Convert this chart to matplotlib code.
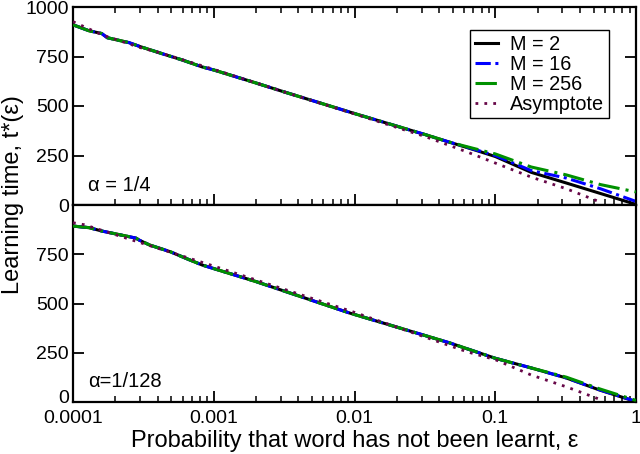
import matplotlib
matplotlib.use("Agg")
import matplotlib.pyplot as plt
import matplotlib.transforms as mtransforms
from matplotlib.ticker import LogLocator, NullFormatter, FixedLocator

plt.rcParams['font.family'] = ['Liberation Sans', 'DejaVu Sans']

# ---------------- data ----------------
# top panel, alpha = 1/4 : common part of the three M curves
top_eps_common = [1e-4, 1.3e-4, 1.6e-4, 1.75e-4, 2.5e-4, 3e-4, 4.4e-4, 6e-4,
                  8.3e-4, 1e-3, 2e-3, 3.2e-3, 0.01, 0.032, 0.047]
top_t_common = [910, 880, 866, 845, 820, 800, 762, 732,
                697, 682, 616, 570, 462, 355, 318]
top_eps_tail = [0.07, 0.1, 0.18, 0.32, 0.56, 1.0]
top_t_tail_m2 = [280, 245, 165, 111, 58, 3]
top_t_tail_m16 = [282, 250, 174, 136, 82, 18]
top_t_tail_m256 = [286, 258, 192, 152, 103, 66]

top_eps_asym = [1e-4, 1.6e-4, 3e-4, 4e-4, 1e-3, 3.2e-3, 0.01, 0.032, 0.063,
                0.1, 0.18, 0.32, 0.57]
top_t_asym = [926, 860, 795, 772, 685, 570, 460, 345, 268, 212, 141, 82, 12]

# bottom panel, alpha = 1/128
bot_eps_common = [1e-4, 1.3e-4, 1.6e-4, 2.8e-4, 2.95e-4, 3.5e-4, 4.9e-4,
                  6.5e-4, 8.3e-4, 2e-3, 0.0092, 0.047, 0.1, 0.18]
bot_t_common = [893, 885, 868, 832, 822, 797, 763, 726, 695, 611, 452, 301,
                222, 173]
bot_eps_tail = [0.32, 0.55, 1.0]
bot_t_tail_m2 = [122, 61, 2]
bot_t_tail_m16 = [122, 62, 3]
bot_t_tail_m256 = [126, 67, 8]

bot_eps_asym = [1e-4, 1.2e-4, 1e-3, 0.01, 0.063, 0.1, 0.18, 0.32, 0.57]
bot_t_asym = [910, 900, 690, 455, 255, 215, 137, 77, 10]

labels = ["M = 2", "M = 16", "M = 256", "Asymptote"]
yticks = [0, 250, 500, 750, 1000]
xticks = [1e-4, 1e-3, 1e-2, 1e-1, 1]
xticklabels = ["0.0001", "0.001", "0.01", "0.1", "1"]

# ---------------- styling ----------------
c_m2 = "black"
c_m16 = "#0000ff"
c_m256 = "#009100"
c_asym = "#670748"
ls_m2 = "-"
ls_m16 = (0, (5, 1.5, 1, 1.5))
ls_m256 = (0, (7, 2, 1, 2))
ls_asym = (0, (1, 2.2))

fig = plt.figure(figsize=(6.4, 4.54), dpi=100)
left, right = 73 / 640, 636 / 640
top, mid, bot = 1 - 7 / 454, 1 - 205 / 454, 1 - 402 / 454
ax1 = fig.add_axes([left, mid, right - left, top - mid])
ax2 = fig.add_axes([left, bot, right - left, mid - bot], sharex=ax1)


def draw(ax, eps_c, t_c, eps_tail, t2, t16, t256, eps_a, t_a):
    ax.plot(eps_a, t_a, color=c_asym, ls=ls_asym, lw=2.0, label=labels[3], zorder=4)
    ax.plot(eps_c + eps_tail, t_c + t256, color=c_m256, ls=ls_m256, lw=2.2, label=labels[2], zorder=3)
    ax.plot(eps_c + eps_tail, t_c + t16, color=c_m16, ls=ls_m16, lw=2.2, label=labels[1], zorder=2)
    ax.plot(eps_c + eps_tail, t_c + t2, color=c_m2, ls=ls_m2, lw=2.2, label=labels[0], zorder=1)


draw(ax1, top_eps_common, top_t_common, top_eps_tail, top_t_tail_m2,
     top_t_tail_m16, top_t_tail_m256, top_eps_asym, top_t_asym)
draw(ax2, bot_eps_common, bot_t_common, bot_eps_tail, bot_t_tail_m2,
     bot_t_tail_m16, bot_t_tail_m256, bot_eps_asym, bot_t_asym)

for ax in (ax1, ax2):
    ax.set_xscale("log")
    ax.set_xlim(1e-4, 1)
    ax.set_ylim(0, 1000)
    for s in ax.spines.values():
        s.set_linewidth(1.6)
    ax.xaxis.set_major_locator(FixedLocator(xticks))
    ax.xaxis.set_minor_locator(LogLocator(base=10, subs=range(2, 10)))
    ax.xaxis.set_minor_formatter(NullFormatter())
    ax.tick_params(which="major", direction="in", length=8, width=1.3,
                   labelsize=14, right=True, pad=3)
    ax.tick_params(which="minor", direction="in", length=4, width=1.1, right=True)

ax1.tick_params(which="both", top=True, labelbottom=False)
ax1.set_yticks(yticks)
ax2.set_yticks(yticks[:-1])
ax2.set_xticklabels(xticklabels)
ax2.tick_params(axis="x", which="major", pad=6)

# nudge the bottom "0" label up a little so it does not collide with "0.0001"
lbl0 = ax2.yaxis.get_major_ticks()[0].label1
lbl0.set_transform(lbl0.get_transform() +
                   mtransforms.ScaledTranslation(0, 4 / 72, fig.dpi_scale_trans))

ax1.text(0.027, 0.07, "\u03b1 = 1/4", transform=ax1.transAxes, fontsize=14.5)
ax2.text(0.027, 0.076, "\u03b1=1/128", transform=ax2.transAxes, fontsize=14.5)

h, l = ax1.get_legend_handles_labels()
order = [3, 2, 1, 0]
leg = ax1.legend([h[i] for i in order], [l[i] for i in order],
                 loc="upper right", bbox_to_anchor=(0.952, 0.886),
                 fontsize=14.3, handlelength=1.16, handletextpad=0.6,
                 labelspacing=0.05, borderpad=0.25, fancybox=False,
                 framealpha=1, edgecolor="black", borderaxespad=0.0)
leg.get_frame().set_linewidth(1.0)

ax2.set_xlabel("Probability that word has not been learnt, \u03b5", fontsize=17, labelpad=2)
fig.text(0.021, 1 - 195 / 454, "Learning time, t*(\u03b5)", rotation=90,
         va="center", ha="center", fontsize=17)

fig.savefig("out.png", dpi=100)
